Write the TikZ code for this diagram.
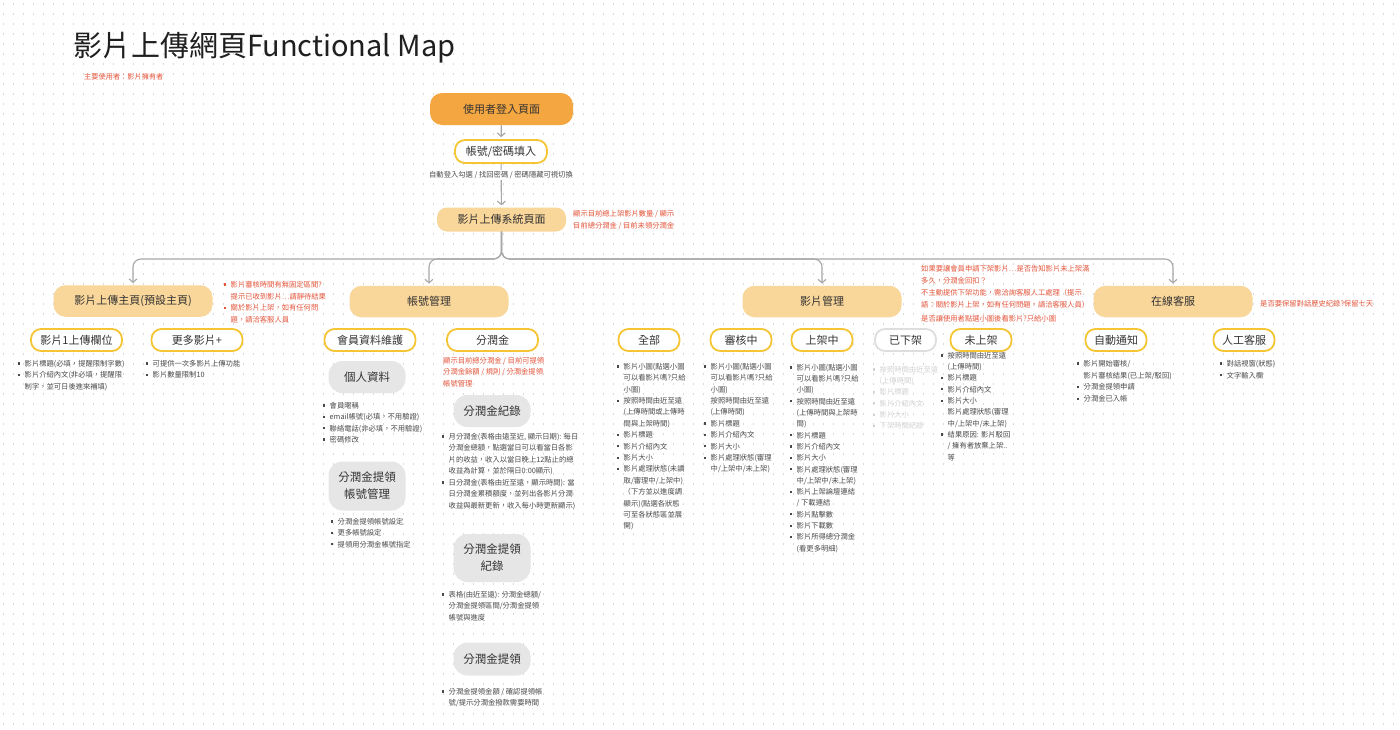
\documentclass[tikz,border=0pt]{standalone}
\usepackage{fontspec}
\setmainfont{Noto Sans CJK TC}
\usetikzlibrary{arrows.meta}
\definecolor{cOrD}{HTML}{F4A640}
\definecolor{cOrL}{HTML}{F9D69A}
\definecolor{cYel}{HTML}{F6C534}
\definecolor{cGray}{HTML}{E6E6E6}
\definecolor{cGrayB}{HTML}{DEDEDE}
\definecolor{cFade}{HTML}{D2D2D2}
\definecolor{cRed}{HTML}{E4553B}
\definecolor{cTxt}{HTML}{333333}
\definecolor{cBody}{HTML}{4A4A4A}
\definecolor{cLine}{HTML}{A6A6A6}
\definecolor{cDot}{HTML}{D9D9D9}
\newcommand\Bul{\makebox[6.5pt][l]{\rule[1.8pt]{2.2pt}{2.2pt}}}
\newcommand\Ind{\hspace*{6.5pt}}
\tikzset{
  lvlzero/.style={rounded corners=12pt, fill=cOrD, minimum width=143pt, minimum height=32pt, inner sep=0pt, text=cTxt, font=\fontsize{11}{13}\selectfont},
  lvlone/.style={rounded corners=12pt, fill=cOrL, minimum width=159pt, minimum height=31.5pt, inner sep=0pt, text=cTxt, font=\fontsize{11}{13}\selectfont},
  lvlbox/.style={rounded corners=10pt, fill=cOrL, minimum height=24pt, inner sep=0pt, text=cTxt, font=\fontsize{11}{13}\selectfont},
  lvltwo/.style={rounded corners=10pt, draw=cYel, line width=1.8pt, fill=white, minimum height=22pt, inner sep=0pt, text=cTxt, font=\fontsize{11}{13}\selectfont},
  lvltwog/.style={lvltwo, draw=cGrayB},
  gbox/.style={rounded corners=14pt, fill=cGray, minimum width=77pt, minimum height=32pt, inner sep=0pt, align=center, text=cTxt, font=\fontsize{11.5}{17}\selectfont},
  lst/.style={align=left, inner sep=0pt, anchor=north west, text=cBody, font=\fontsize{7.3}{11.35}\selectfont},
  lstw/.style={lst, font=\fontsize{7.3}{11.75}\selectfont},
  note/.style={lst, text=cRed, font=\fontsize{7.3}{11.8}\selectfont},
  conn/.style={draw=cLine, line width=1.1pt, -{Straight Barb[length=3.5pt,width=8pt]}, shorten >=2pt},
  dotline/.style={draw=cDot, line width=1.3pt, dash pattern=on 1.3pt off 8.7pt, dash phase=-3pt}
}
\begin{document}
\begin{tikzpicture}[x=1pt,y=-1pt]
\useasboundingbox (0,0) rectangle (1400,729);
\fill[white] (0,0) rectangle (1400,729);
\foreach \yy in {4,14,...,724} \draw[dotline] (0,\yy) -- (1400,\yy);

% title
\node[anchor=west, inner sep=0pt, text=black!88, font=\fontsize{29}{32}\selectfont] (title) at (73,48) {影片上傳網頁Functional Map};
\node[anchor=west, inner sep=0pt, text=cRed, font=\fontsize{7.2}{9}\selectfont] (sub) at (84,77) {主要使用者：影片擁有者};

% top chain
\node[lvlzero] (login) at (501.5,109) {使用者登入頁面};
\node[lvltwo, minimum width=92pt, minimum height=23pt] (acct) at (501,151.5) {帳號/密碼填入};
\node[lvlbox, minimum width=129pt] (sys) at (501.5,219.5) {影片上傳系統頁面};
\draw[conn] (login) -- (acct);
\draw[conn] (acct) -- (sys);
\node[inner sep=1.5pt, fill=white, text=cBody, font=\fontsize{7.3}{9}\selectfont] (acctnote) at (501,175) {自動登入勾選 / 找回密碼 / 密碼隱藏可視切換};
\node[note, font=\fontsize{7.3}{12}\selectfont] (nsys) at (573,210) {顯示目前總上架影片數量 / 顯示\\目前總分潤金 / 目前未領分潤金};

% level 1
\node[lvlone] (upload) at (133,301) {影片上傳主頁(預設主頁)};
\node[lvlone] (mgmt) at (429,301.5) {帳號管理};
\node[lvlone] (video) at (822,301.5) {影片管理};
\node[lvlone] (cs) at (1173,301.5) {在線客服};

\coordinate (jA) at (133,259);
\coordinate (jB) at (429,259);
\coordinate (jC) at (822,259);
\coordinate (jD) at (1173,259);
\draw[conn, rounded corners=8pt] (sys.south) |- (jA) -- (upload.north);
\draw[conn, rounded corners=8pt] (sys.south) |- (jB) -- (mgmt.north);
\draw[conn, rounded corners=8pt] (sys.south) |- (jC) -- (video.north);
\draw[conn, rounded corners=8pt] (sys.south) |- (jD) -- (cs.north);

% notes on level 1
\node[note] (nup) at (224,281) {\Bul 影片審核時間有無固定區間?\\\Ind 提示已收到影片…請靜待結果\\\Bul 關於影片上架，如有任何問\\\Ind 題，請洽客服人員};
\node[note, font=\fontsize{7.3}{12}\selectfont] (nvid) at (921,265) {如果要讓會員申請下架影片…是否告知影片未上架滿\\多久，分潤金回扣？\\不主動提供下架功能，需洽詢客服人工處理（提示\\語：關於影片上架，如有任何問題，請洽客服人員）};
\node[note] (nvid2) at (921,315) {是否讓使用者點選小圖後看影片?只給小圖};
\node[note] (ncs) at (1260,300) {是否要保留對話歷史紀錄?保留七天};

% level 2
\node[lvltwo, minimum width=91pt] (up1) at (76.5,340) {影片1上傳欄位};
\node[lvltwo, minimum width=91pt] (upmore) at (197,340) {更多影片+};
\node[lvltwo, minimum width=91pt] (member) at (370,340) {會員資料維護};
\node[lvltwo, minimum width=91pt] (rev) at (492.5,340) {分潤金};
\node[lvltwo, minimum width=61pt] (vall) at (649,340) {全部};
\node[lvltwo, minimum width=61pt] (vrev) at (741,340) {審核中};
\node[lvltwo, minimum width=61pt] (von) at (822,340) {上架中};
\node[lvltwog, minimum width=61pt] (voff) at (905.5,340) {已下架};
\node[lvltwo, minimum width=61pt] (vnot) at (981,340) {未上架};
\node[lvltwo, minimum width=61pt] (auto) at (1116,340) {自動通知};
\node[lvltwo, minimum width=61pt] (human) at (1244,340) {人工客服};

% upload lists
\node[lst] (lup1) at (18,360) {\Bul 影片標題(必填，提醒限制字數)\\\Bul 影片介紹內文(非必填，提醒限\\\Ind 制字，並可日後進來補填)};
\node[lst] (lmore) at (146,360) {\Bul 可提供一次多影片上傳功能\\\Bul 影片數量限制10};

% account management
\node[gbox] (personal) at (367,377) {個人資料};
\node[lst] (lpers) at (323,402) {\Bul 會員暱稱\\\Bul email帳號(必填，不用驗證)\\\Bul 聯絡電話(非必填，不用驗證)\\\Bul 密碼修改};
\node[gbox, minimum height=49pt] (wacct) at (367,486) {分潤金提領\\帳號管理};
\node[lst] (lwacct) at (331,518) {\Bul 分潤金提領帳號設定\\\Bul 更多帳號設定\\\Bul 提領用分潤金帳號指定};

\node[note, font=\fontsize{7.3}{11.5}\selectfont] (nrev) at (443,357) {顯示目前總分潤金 / 目前可提領\\分潤金餘額 / 規則 / 分潤金提領\\帳號管理};
\node[gbox] (revrec) at (492,411) {分潤金紀錄};
\node[lst, font=\fontsize{7.3}{11.5}\selectfont] (lrevrec) at (442,433) {\Bul 月分潤金(表格由遠至近, 顯示日期): 每日\\\Ind 分潤金總額，點選當日可以看當日各影\\\Ind 片的收益，收入以當日晚上12點止的總\\\Ind 收益為計算，並於隔日0:00顯示)\\\Bul 日分潤金(表格由近至遠，顯示時間): 當\\\Ind 日分潤金累積額度，並列出各影片分潤\\\Ind 收益與最新更新，收入每小時更新顯示)};
\node[gbox, minimum height=48pt] (wrec) at (492,558) {分潤金提領\\紀錄};
\node[lst] (lwrec) at (442,591) {\Bul 表格(由近至遠): 分潤金總額/\\\Ind 分潤金提領區間/分潤金提領\\\Ind 帳號與進度};
\node[gbox, minimum height=33pt] (wd) at (492,659) {分潤金提領};
\node[lst] (lwd) at (442,688) {\Bul 分潤金提領金額 / 確認提領帳\\\Ind 號/提示分潤金撥款需要時間};

% video management lists
\node[lst, font=\fontsize{7.3}{11.4}\selectfont] (lall) at (617,363) {\Bul 影片小圖(點選小圖\\\Ind 可以看影片嗎?只給\\\Ind 小圖)\\\Bul 按照時間由近至遠\\\Ind (上傳時間或上傳時\\\Ind 間與上架時間)\\\Bul 影片標題\\\Bul 影片介紹內文\\\Bul 影片大小\\\Bul 影片處理狀態(未讀\\\Ind 取/審理中/上架中)\\\Ind （下方並以進度調\\\Ind 顯示)(點選各狀態\\\Ind 可至各狀態區並展\\\Ind 開)};
\node[lst, font=\fontsize{7.3}{11.4}\selectfont] (lrev) at (704,363) {\Bul 影片小圖(點選小圖\\\Ind 可以看影片嗎?只給\\\Ind 小圖)\\\Ind 按照時間由近至遠\\\Ind (上傳時間)\\\Bul 影片標題\\\Bul 影片介紹內文\\\Bul 影片大小\\\Bul 影片處理狀態(審理\\\Ind 中/上架中/未上架)};
\node[lst, font=\fontsize{7.3}{11.3}\selectfont] (lon) at (790,364) {\Bul 影片小圖(點選小圖\\\Ind 可以看影片嗎?只給\\\Ind 小圖)\\\Bul 按照時間由近至遠\\\Ind (上傳時間與上架時\\\Ind 間)\\\Bul 影片標題\\\Bul 影片介紹內文\\\Bul 影片大小\\\Bul 影片處理狀態(審理\\\Ind 中/上架中/未上架)\\\Bul 影片上架論壇連結\\\Ind / 下載連結\\\Bul 影片點擊數\\\Bul 影片下載數\\\Bul 影片所得總分潤金\\\Ind (看更多明細)};
\node[lst, text=cFade, font=\fontsize{7.3}{11.3}\selectfont] (loff) at (873,366) {\Bul 按照時間由近至遠\\\Ind (上傳時間)\\\Bul 影片標題\\\Bul 影片介紹內文\\\Bul 影片大小\\\Bul 下架時間紀錄};
\node[lst, font=\fontsize{7.3}{11.3}\selectfont] (lnot) at (941,352) {\Bul 按照時間由近至遠\\\Ind (上傳時間)\\\Bul 影片標題\\\Bul 影片介紹內文\\\Bul 影片大小\\\Ind 影片處理狀態(審理\\\Ind 中/上架中/未上架)\\\Bul 結果原因: 影片駁回\\\Ind / 擁有者放棄上架..\\\Ind 等};

% customer service lists
\node[lstw] (lauto) at (1077,360) {\Bul 影片開始審核/\\\Ind 影片審核結果(已上架/駁回)\\\Bul 分潤金提領申請\\\Bul 分潤金已入帳};
\node[lstw] (lhuman) at (1220,360) {\Bul 對話視窗(狀態)\\\Bul 文字輸入欄};
\end{tikzpicture}
\end{document}
